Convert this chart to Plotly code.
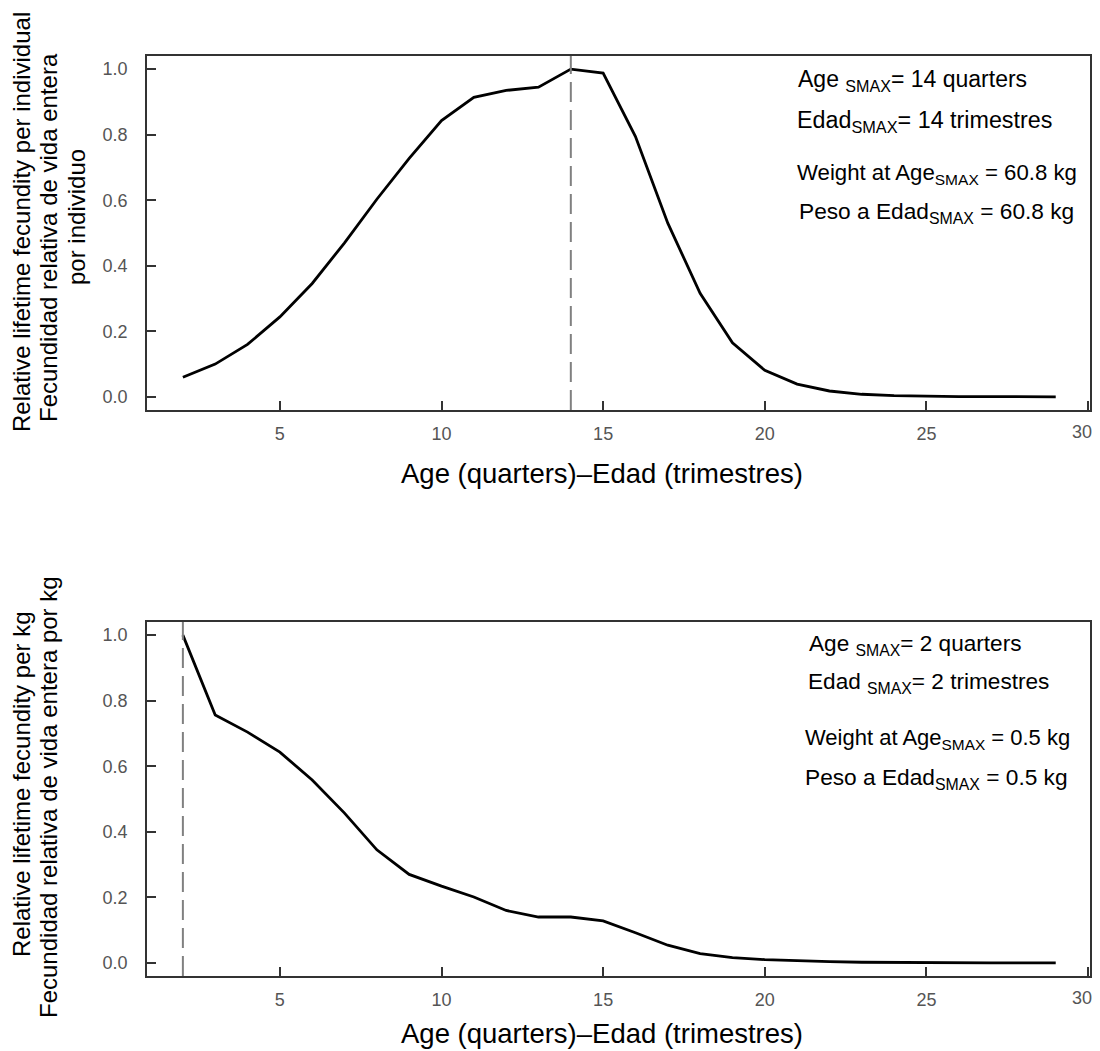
import plotly.graph_objects as go

# ---- data ----
ages = list(range(2, 30))
fec_individual = [0.06, 0.10, 0.16, 0.244, 0.346, 0.47, 0.603, 0.728, 0.843, 0.914,
                  0.935, 0.945, 1.0, 0.988, 0.794, 0.53, 0.316, 0.165, 0.081, 0.039,
                  0.018, 0.008, 0.004, 0.002, 0.001, 0.001, 0.0, 0.0]
fec_per_kg = [1.0, 0.756, 0.704, 0.643, 0.558, 0.457, 0.345, 0.27, 0.234, 0.201,
              0.16, 0.14, 0.14, 0.128, 0.092, 0.054, 0.028, 0.016, 0.010, 0.006,
              0.004, 0.002, 0.001, 0.001, 0.0, 0.0, 0.0, 0.0]
age_smax_top = 14
age_smax_bottom = 2
x_ticks = [5, 10, 15, 20, 25, 30]
x_tick_labels = ["5", "10", "15", "20", "25", "30"]
y_ticks = [0.0, 0.2, 0.4, 0.6, 0.8, 1.0]

# page body has an 8px margin; work in screen pixels and convert
OFF = 8
W, H = 1100 - 2 * OFF, 1051 - OFF
FONT = "Liberation Sans, Arial, sans-serif"
FRAME = "#333333"
TICKFONT = dict(family=FONT, size=18, color="#555555")

def px(xp):
    return (xp - OFF) / W

def py(yp):
    return 1 - (yp - OFF) / H

fig = go.Figure()
fig.add_trace(go.Scatter(x=ages, y=fec_individual, mode="lines",
                         line=dict(color="black", width=2.8), xaxis="x", yaxis="y",
                         showlegend=False))
fig.add_trace(go.Scatter(x=ages, y=fec_per_kg, mode="lines",
                         line=dict(color="black", width=2.8), xaxis="x2", yaxis="y2",
                         showlegend=False))

# the last x tick label sits at the page edge: it is drawn as an annotation at x=30
axis_ticktext = x_tick_labels[:-1] + [""]

xdom = [px(147), px(1090)]
axis_common = dict(showline=True, linecolor=FRAME, linewidth=1.5, mirror=True,
                   ticks="inside", ticklen=9, tickwidth=1.5, tickcolor=FRAME,
                   showgrid=False, zeroline=False, tickfont=TICKFONT)

fig.update_layout(
    width=W, height=H,
    margin=dict(l=0, r=0, t=0, b=0),
    paper_bgcolor="white", plot_bgcolor="white",
    xaxis=dict(domain=xdom, range=[0.89, 30.06], tickvals=x_ticks, ticktext=axis_ticktext,
               anchor="y", ticklabelstandoff=7, **axis_common),
    yaxis=dict(domain=[py(410), py(56)], range=[-0.04, 1.04], tickvals=y_ticks,
               tickformat=".1f", anchor="x", ticklabelstandoff=14, **axis_common),
    xaxis2=dict(domain=xdom, range=[0.89, 30.06], tickvals=x_ticks, ticktext=axis_ticktext,
                anchor="y2", ticklabelstandoff=7, **axis_common),
    yaxis2=dict(domain=[py(976), py(622)], range=[-0.04, 1.04], tickvals=y_ticks,
                tickformat=".1f", anchor="x2", ticklabelstandoff=14, **axis_common),
)

# dashed vertical lines at Age SMAX
fig.add_shape(type="line", xref="x", yref="y domain", x0=age_smax_top, x1=age_smax_top,
              y0=0, y1=1, line=dict(color="#808080", width=2, dash="20px,8px"))
fig.add_shape(type="line", xref="x2", yref="y2 domain", x0=age_smax_bottom, x1=age_smax_bottom,
              y0=0, y1=1, line=dict(color="#808080", width=2, dash="20px,8px"))

ann = []
def text(t, x, y, size, xanchor="left", angle=0, color="black"):
    ann.append(dict(text=t, x=px(x), y=py(y), xref="paper", yref="paper",
                    xanchor=xanchor, yanchor="middle", showarrow=False, textangle=angle,
                    font=dict(family=FONT, size=size, color=color)))

# last x tick label ("30") for each panel, placed on the x axis scale
for xr, ypix in (("x", 432), ("x2", 998)):
    ann.append(dict(text=x_tick_labels[-1], x=x_ticks[-1], xref=xr, y=py(ypix), yref="paper",
                    xanchor="center", yanchor="middle", xshift=-6, showarrow=False,
                    font=TICKFONT))

# top panel annotations
text(f"Age <sub>SMAX</sub>= {age_smax_top} quarters", 796, 81, 23)
text(f"Edad<sub>SMAX</sub>= {age_smax_top} trimestres", 795, 122, 23.3)
text("Weight at Age<sub>SMAX</sub> = 60.8 kg", 795, 174, 22.2)
text("Peso a Edad<sub>SMAX</sub> = 60.8 kg", 797, 213, 22.7)
# bottom panel annotations
text(f"Age <sub>SMAX</sub>= {age_smax_bottom} quarters", 807, 645, 22.6)
text(f"Edad <sub>SMAX</sub>= {age_smax_bottom} trimestres", 806, 683, 22.6)
text("Weight at Age<sub>SMAX</sub> = 0.5 kg", 803, 739, 22)
text("Peso a Edad<sub>SMAX</sub> = 0.5 kg", 803, 778, 22.7)

# x axis titles
text("Age (quarters)\u2013Edad (trimestres)", 601.7, 473, 27.5, xanchor="center")
text("Age (quarters)\u2013Edad (trimestres)", 601.7, 1033, 27.5, xanchor="center")

# y axis titles (one annotation per line)
text("Relative lifetime fecundity per individual", 21, 222, 24, xanchor="center", angle=-90)
text("Fecundidad relativa de vida entera", 48, 238, 24, xanchor="center", angle=-90)
text("por individuo", 76, 217, 24, xanchor="center", angle=-90)
text("Relative lifetime fecundity per kg", 21, 784, 24, xanchor="center", angle=-90)
text("Fecundidad relativa de vida entera por kg", 48, 797, 24, xanchor="center", angle=-90)

fig.update_layout(annotations=ann)
fig.write_html("out.html", config={"displayModeBar": False})
